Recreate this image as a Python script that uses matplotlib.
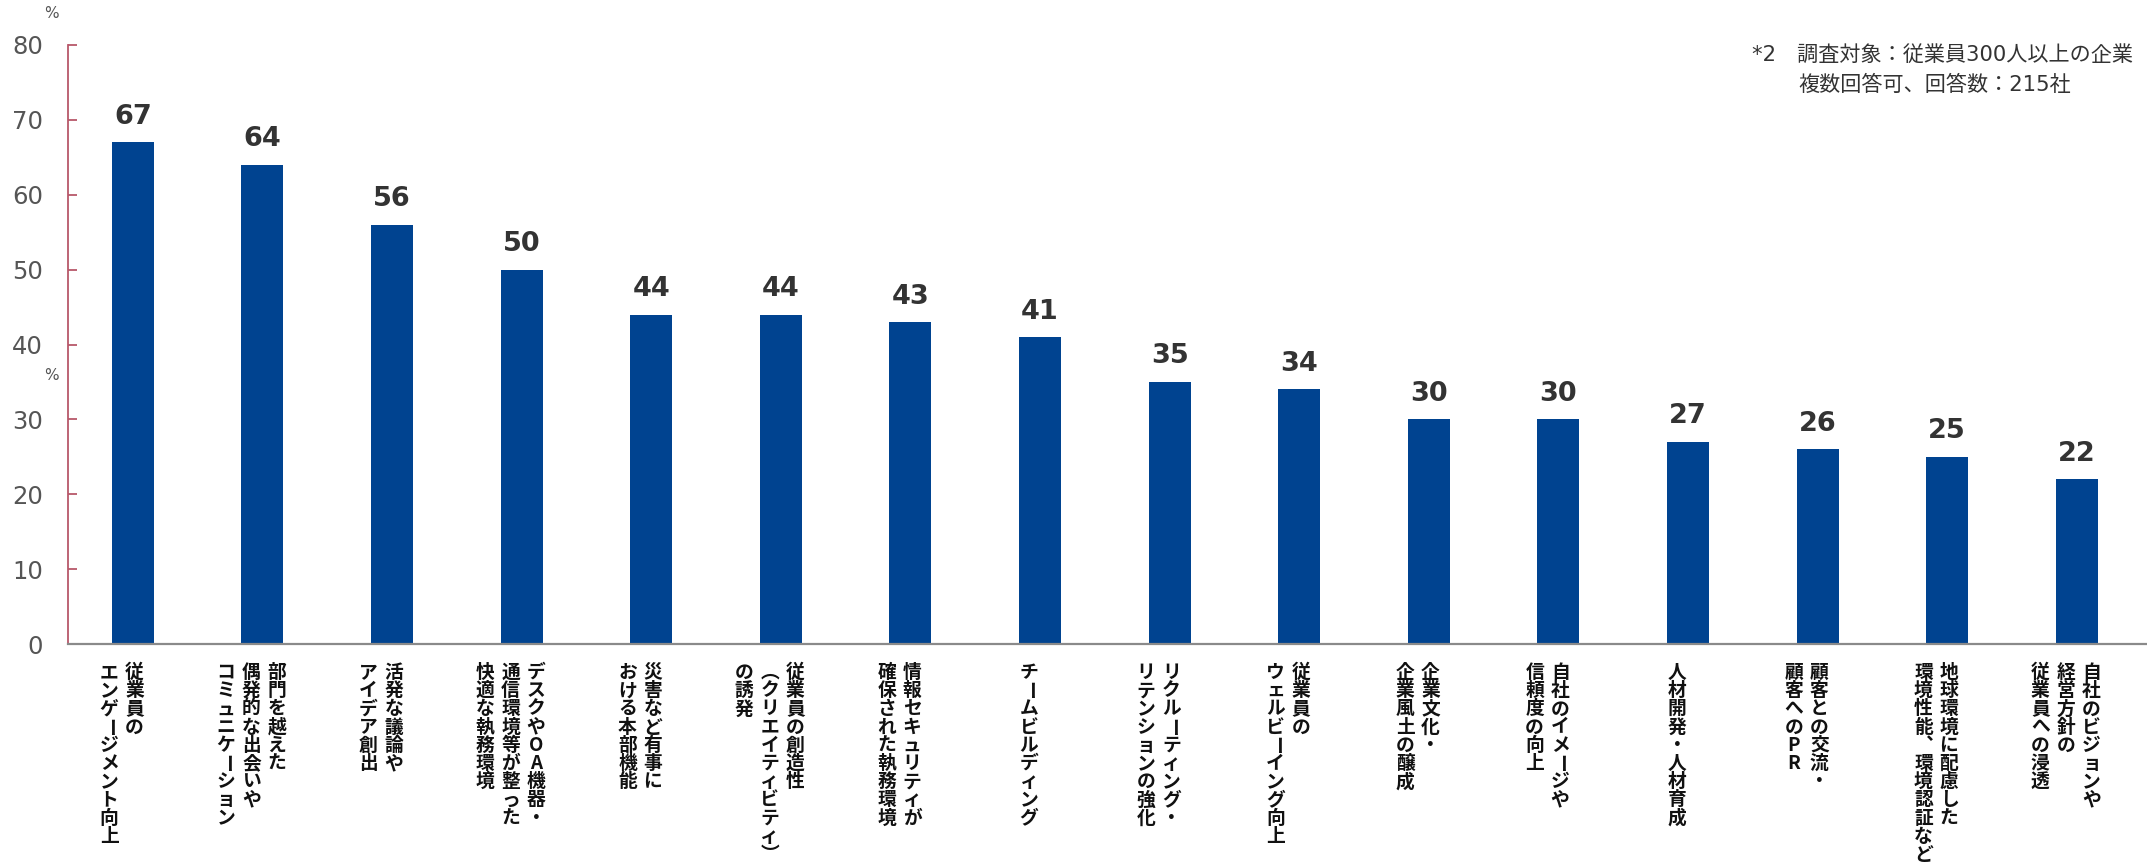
import matplotlib

matplotlib.use("Agg")
import matplotlib.pyplot as plt
from matplotlib.transforms import offset_copy

# data
labels = [
    "従業員の\nエンゲージメント向上",
    "部門を越えた\n偶発的な出会いや\nコミュニケーション",
    "活発な議論や\nアイデア創出",
    "デスクやOA機器・\n通信環境等が整った\n快適な執務環境",
    "災害など有事に\nおける本部機能",
    "従業員の創造性\n（クリエイティビティ）\nの誘発",
    "情報セキュリティが\n確保された執務環境",
    "チームビルディング",
    "リクルーティング・\nリテンションの強化",
    "従業員の\nウェルビーイング向上",
    "企業文化・\n企業風土の醸成",
    "自社のイメージや\n信頼度の向上",
    "人材開発・人材育成",
    "顧客との交流・\n顧客へのPR",
    "地球環境に配慮した\n環境性能、環境認証など",
    "自社のビジョンや\n経営方針の\n従業員への浸透",
]
values = [67, 64, 56, 50, 44, 44, 43, 41, 35, 34, 30, 30, 27, 26, 25, 22]
y_ticks = [0, 10, 20, 30, 40, 50, 60, 70, 80]
note_lines = ["*2　調査対象：従業員300人以上の企業", "複数回答可、回答数：215社"]

BAR_COLOR = "#004390"
AXIS_RED = "#b8586a"
TEXT_DARK = "#333333"
JP_FONT = ["Noto Sans CJK JP", "DejaVu Sans"]
NUM_FONT = ["DejaVu Sans", "Noto Sans CJK JP"]

W, H, DPI = 2147, 867, 100
fig = plt.figure(figsize=(W / DPI, H / DPI), dpi=DPI)

# axes placed in pixel terms: y=0 at 644px from top, y=80 at 45px
left_px, bottom_px, top_px = 68, H - 644, H - 45
ax = fig.add_axes([left_px / W, bottom_px / H, (W - left_px) / W, (top_px - bottom_px) / H])

x = list(range(len(values)))
ax.bar(x, values, width=0.324, color=BAR_COLOR, zorder=2)

ax.set_xlim(-0.5, (W - left_px) / 129.6 - 0.5)
ax.set_ylim(0, 80)
ax.set_yticks(y_ticks)
ax.set_yticklabels([str(t) for t in y_ticks], fontsize=17.5, color="#555555", family=NUM_FONT)
ax.tick_params(axis="y", direction="in", length=6.5, width=1.3, color=AXIS_RED, pad=18)
ax.set_xticks([])

for side in ["top", "right"]:
    ax.spines[side].set_visible(False)
ax.spines["left"].set_color(AXIS_RED)
ax.spines["left"].set_linewidth(1.3)
ax.spines["bottom"].set_color("#8a8a8a")
ax.spines["bottom"].set_linewidth(1.6)

# value labels above the bars
for xi, v in zip(x, values):
    ax.annotate(
        str(v),
        (xi, v),
        xytext=(0, 9),
        textcoords="offset points",
        ha="center",
        va="bottom",
        fontsize=19.5,
        fontweight="bold",
        color=TEXT_DARK,
        family=NUM_FONT,
    )

# vertical (tategaki) category labels: first line on the right
VERTICAL_FORMS = {"（": "\ufe35", "）": "\ufe36", "、": "\ufe11"}
ROTATE = set("ー")
char_step = 18.2
col_gap = 25.5
x_shift = -11
top_gap = 28.5
base = ax.get_xaxis_transform()
for xi, label in zip(x, labels):
    lines = label.split("\n")
    n = len(lines)
    for j, line in enumerate(lines):
        dx = x_shift + ((n - 1) / 2 - j) * col_gap
        for k, ch in enumerate(line):
            dy = -(top_gap + k * char_step)
            tr = offset_copy(base, fig=fig, x=dx, y=dy, units="dots")
            ax.text(
                xi,
                0,
                VERTICAL_FORMS.get(ch, ch),
                transform=tr,
                ha="center",
                va="center",
                rotation=-90 if ch in ROTATE else 0,
                fontsize=13.5,
                fontweight="bold",
                color="#111111",
                family=JP_FONT,
                clip_on=False,
            )

# percent markers
fig.text(51 / W, 1 - 14 / H, "%", ha="center", va="center", fontsize=11, color="#555555", family=NUM_FONT)
fig.text(51 / W, 1 - 376 / H, "%", ha="center", va="center", fontsize=11, color="#555555", family=NUM_FONT)

# survey note
fig.text(1752 / W, 1 - 55 / H, note_lines[0], ha="left", va="center", fontsize=15.2, color=TEXT_DARK, family=NUM_FONT)
fig.text(1798 / W, 1 - 85 / H, note_lines[1], ha="left", va="center", fontsize=15.2, color=TEXT_DARK, family=NUM_FONT)

fig.savefig("out.png", dpi=DPI)
